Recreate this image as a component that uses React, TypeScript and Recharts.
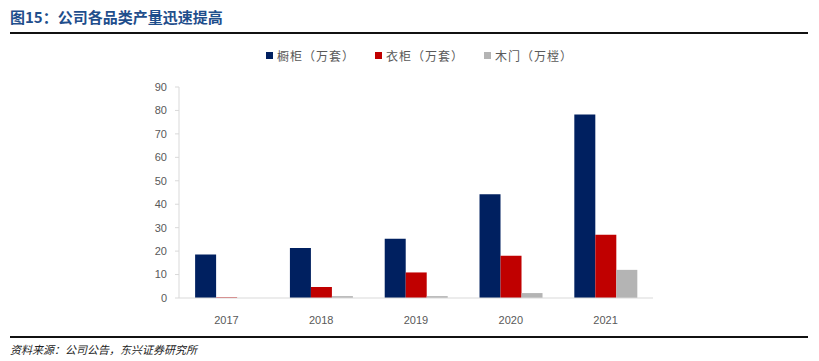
import React from "react";
import { BarChart, Bar, XAxis, YAxis } from "recharts";

const years = ["2017", "2018", "2019", "2020", "2021"];
const cabinets = [18.6, 21.3, 25.3, 44.3, 78.3];
const wardrobes = [0.3, 4.7, 10.9, 18.0, 27.0];
const doors = [0, 0.8, 0.8, 2.1, 12.0];
const yTicks = [0, 10, 20, 30, 40, 50, 60, 70, 80, 90];

const seriesNames = ["橱柜（万套）", "衣柜（万套）", "木门（万樘）"];
const seriesColors = ["#002060", "#C00000", "#B4B4B4"];

const data = years.map((y, i) => ({
  year: y,
  cabinets: cabinets[i],
  wardrobes: wardrobes[i],
  doors: doors[i],
}));

const LegendContent = () => (
  <div
    style={{
      display: "flex",
      justifyContent: "center",
      fontFamily: "'Noto Sans CJK SC', sans-serif",
      fontSize: 12,
      color: "#595959",
      letterSpacing: 1,
      paddingLeft: 20,
    }}
  >
    {seriesNames.map((n, i) => (
      <div key={n} style={{ display: "flex", alignItems: "center", marginRight: i < 2 ? 20 : 0 }}>
        <span
          style={{
            display: "inline-block",
            width: 7,
            height: 7,
            background: seriesColors[i],
            marginRight: 4,
          }}
        />
        <span>{n}</span>
      </div>
    ))}
  </div>
);

export default function App() {
  return (
    <div
      style={{
        position: "absolute",
        left: 0,
        top: 0,
        width: 819,
        height: 361,
        background: "#fff",
        overflow: "hidden",
      }}
    >
      <div
        style={{
          position: "absolute",
          left: 10,
          top: 7,
          fontFamily: "'Noto Sans CJK SC', sans-serif",
          fontWeight: 700,
          fontSize: 15,
          color: "#1F4E8C",
          lineHeight: "20px",
        }}
      >
        图15：公司各品类产量迅速提高
      </div>
      <div style={{ position: "absolute", left: 10, top: 32, width: 798, height: 2, background: "#111" }} />
      <div style={{ position: "absolute", left: 10, top: 336, width: 798, height: 1.5, background: "#111" }} />
      <div
        style={{
          position: "absolute",
          left: 10,
          top: 340,
          fontFamily: "'Noto Sans CJK SC', sans-serif",
          fontStyle: "italic",
          fontSize: 11,
          color: "#222",
          lineHeight: "18px",
        }}
      >
        资料来源：公司公告，东兴证券研究所
      </div>
      <div style={{ position: "absolute", left: 0, top: 0 }}>
        <BarChart
          width={819}
          height={361}
          data={data}
          margin={{ top: 87, right: 166, bottom: 33, left: 0 }}
          barGap={0}
          barCategoryGap="17%"
        >
          <XAxis
            dataKey="year"
            axisLine={{ stroke: "#D9D9D9" }}
            tickLine={false}
            height={30}
            tick={{ fill: "#595959", fontSize: 11, fontFamily: "'Liberation Sans', Arial, sans-serif" }}
            tickMargin={12}
          />
          <YAxis
            width={179}
            domain={[0, 90]}
            ticks={yTicks}
            interval={0}
            axisLine={{ stroke: "#D9D9D9" }}
            tickLine={{ stroke: "#D9D9D9" }}
            tickSize={4}
            tickMargin={8}
            tick={{ fill: "#595959", fontSize: 11, fontFamily: "'Liberation Sans', Arial, sans-serif" }}
          />
          <Bar dataKey="cabinets" name={seriesNames[0]} fill={seriesColors[0]} isAnimationActive={false} />
          <Bar dataKey="wardrobes" name={seriesNames[1]} fill={seriesColors[1]} isAnimationActive={false} />
          <Bar dataKey="doors" name={seriesNames[2]} fill={seriesColors[2]} isAnimationActive={false} />
        </BarChart>
      </div>
      <div style={{ position: "absolute", left: 0, top: 47, width: 819 }}>
        <LegendContent />
      </div>
    </div>
  );
}
